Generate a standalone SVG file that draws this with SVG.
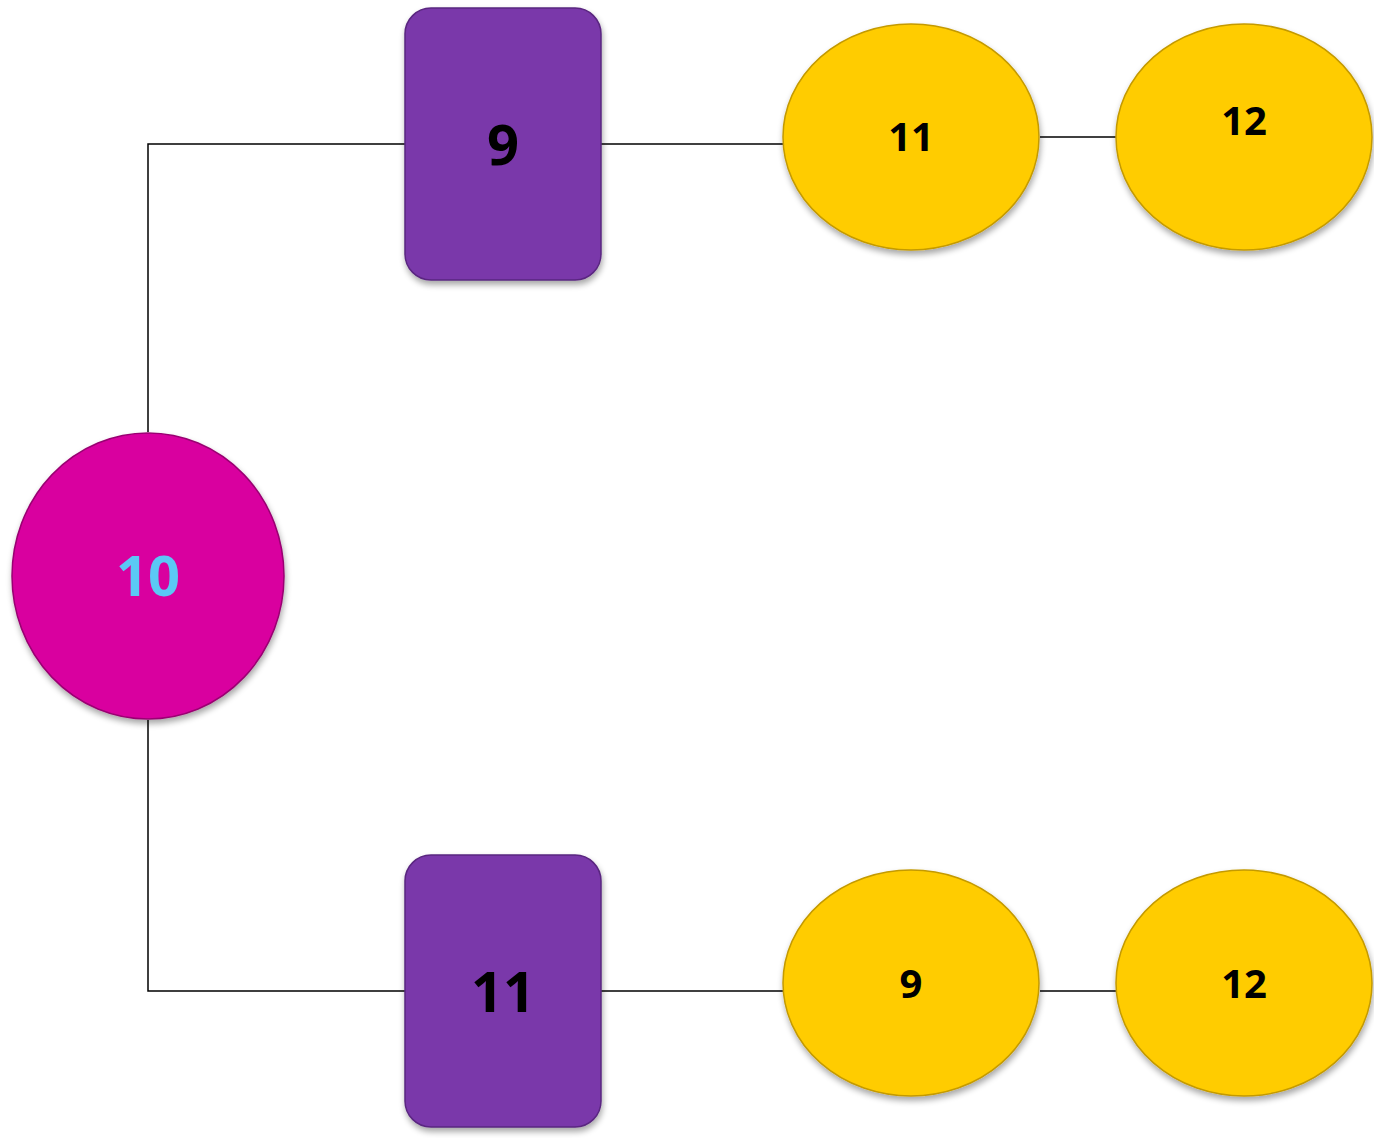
<svg xmlns="http://www.w3.org/2000/svg" width="1374" height="1138" viewBox="0 0 1374 1138">
<style>
.conn{stroke:#000;stroke-width:1.5;fill:none}
.lbl{font-family:"Open Sans","Liberation Sans",sans-serif;font-weight:bold;text-anchor:middle;dominant-baseline:central;fill:#000}
.circ{fill:#D9069F;stroke:#9A0572;stroke-width:1.5;filter:url(#sh)}
.box{fill:#7A38AA;stroke:#5A2680;stroke-width:1.5;filter:url(#sh)}
.oval{fill:#FFCC00;stroke:#C49A00;stroke-width:1.5;filter:url(#sh)}
</style>
<defs>
<filter id="sh" x="-10%" y="-10%" width="125%" height="125%">
<feGaussianBlur in="SourceAlpha" stdDeviation="3"/>
<feOffset dx="1" dy="4" result="b"/>
<feComponentTransfer><feFuncA type="linear" slope="0.35"/></feComponentTransfer>
<feMerge><feMergeNode/><feMergeNode in="SourceGraphic"/></feMerge>
</filter>
</defs>
<g id="connectors">
<polyline class="conn" points="148,432 148,144 405,144"/>
<line class="conn" x1="601" y1="144" x2="783" y2="144"/>
<line class="conn" x1="1040" y1="137" x2="1116" y2="137"/>
<polyline class="conn" points="148,720 148,991 405,991"/>
<line class="conn" x1="601" y1="991" x2="783" y2="991"/>
<line class="conn" x1="1040" y1="991" x2="1116" y2="991"/>
</g>
<g id="n10">
<ellipse class="circ" cx="148" cy="576" rx="136" ry="143"/>
<text class="lbl" x="148" y="574" font-size="56" style="fill:#5BC8F5">10</text>
</g>
<g id="n9top">
<rect class="box" x="405" y="8" width="196" height="272" rx="26"/>
<text class="lbl" x="503" y="143" font-size="56">9</text>
</g>
<g id="n11top">
<ellipse class="oval" cx="911" cy="137" rx="128" ry="113"/>
<text class="lbl" x="911" y="135" font-size="40">11</text>
</g>
<g id="n12top">
<ellipse class="oval" cx="1244" cy="137" rx="128" ry="113"/>
<text class="lbl" x="1244" y="119" font-size="40">12</text>
</g>
<g id="n11bot">
<rect class="box" x="405" y="855" width="196" height="272" rx="26"/>
<text class="lbl" x="503" y="990" font-size="56">11</text>
</g>
<g id="n9bot">
<ellipse class="oval" cx="911" cy="983" rx="128" ry="113"/>
<text class="lbl" x="911" y="982" font-size="40">9</text>
</g>
<g id="n12bot">
<ellipse class="oval" cx="1244" cy="983" rx="128" ry="113"/>
<text class="lbl" x="1244" y="982" font-size="40">12</text>
</g>
</svg>
